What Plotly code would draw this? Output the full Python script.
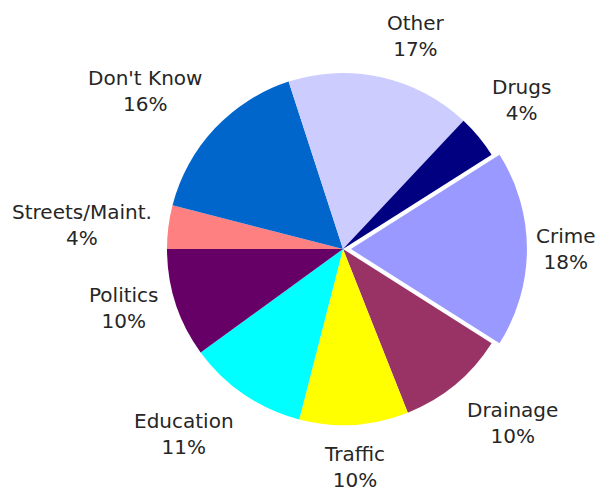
import math
import plotly.graph_objects as go

labels = ["Streets/Maint.", "Don't Know", "Other", "Drugs", "Crime",
          "Drainage", "Traffic", "Education", "Politics"]
values = [4, 16, 17, 4, 18, 10, 10, 11, 10]
colors = ["#FF8080", "#0066CC", "#CCCCFF", "#000080", "#9999FF",
          "#993366", "#FFFF00", "#00FFFF", "#660066"]
pulls = [0, 0, 0, 0, 0.045, 0, 0, 0, 0]

W, H = 604, 497
CX, CY, R = 343, 249, 176          # pie centre / radius in pixels
ROT = 270                           # first slice starts at 9 o'clock
GAP = 15                            # label distance beyond the rim
size = 2 * R * (1 + max(pulls))
dom_x = [(CX - size / 2) / W, (CX + size / 2) / W]
dom_y = [(H - CY - size / 2) / H, (H - CY + size / 2) / H]

fig = go.Figure(go.Pie(
    labels=labels, values=values, sort=False, direction="clockwise",
    rotation=ROT, pull=pulls,
    marker=dict(colors=colors, line=dict(width=0)),
    textinfo="none",
    domain=dict(x=dom_x, y=dom_y),
    showlegend=False, hoverinfo="label+percent",
))

total = sum(values)
cum = 0
annotations = []
for lab, v in zip(labels, values):
    mid = math.radians(ROT + (cum + v / 2) / total * 360)
    cum += v
    s, c = math.sin(mid), math.cos(mid)
    dist = R + GAP
    px = CX + dist * s
    py = CY - dist * c
    xa = "left" if s > 0.2 else ("right" if s < -0.2 else "center")
    ya = "bottom" if c > 0.5 else ("top" if c < -0.5 else "middle")
    annotations.append(dict(
        x=px / W, y=1 - py / H, xref="paper", yref="paper",
        text=f"{lab}<br>{round(v / total * 100)}%", showarrow=False,
        xanchor=xa, yanchor=ya, align="center",
        font=dict(family="DejaVu Sans, Arial, sans-serif", size=20, color="#262626"),
    ))

fig.update_layout(width=W, height=H, margin=dict(l=0, r=0, t=0, b=0),
                  paper_bgcolor="white", plot_bgcolor="white",
                  annotations=annotations)
fig.write_html("out.html")
